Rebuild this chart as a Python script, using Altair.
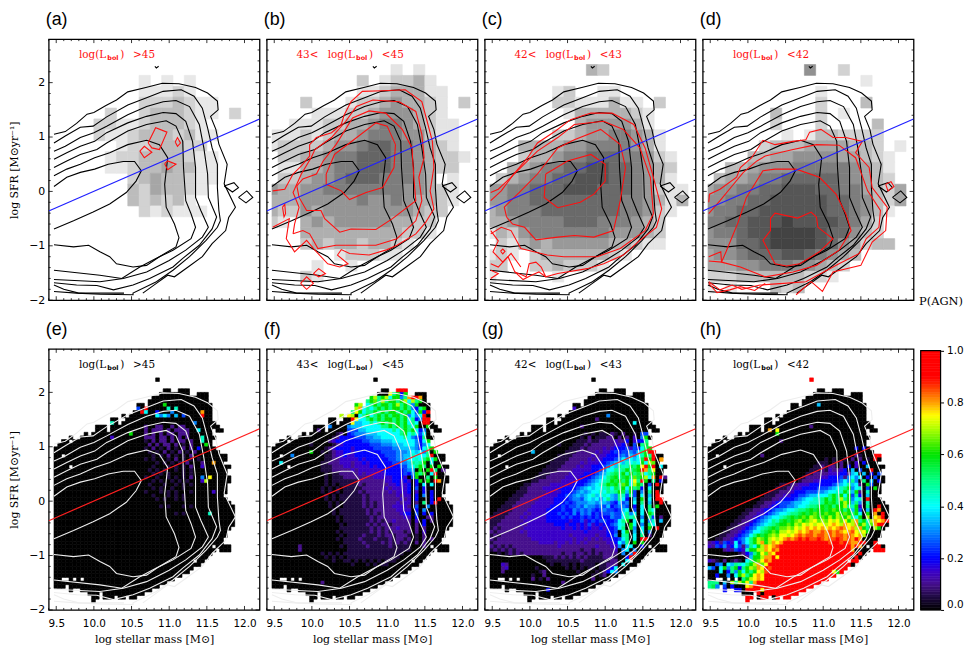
import altair as alt
import pandas as pd

W, H = 212.4, 263
XD = [9.4, 12.2]
YD = [-2.0, 2.8]
XS = alt.Scale(domain=XD, nice=False, zero=False)
YS = alt.Scale(domain=YD, nice=False, zero=False)

X_MAJOR = [9.5, 10.0, 10.5, 11.0, 11.5, 12.0]
X_MINOR = [9.4, 9.6, 9.7, 9.8, 9.9, 10.1, 10.2, 10.3, 10.4, 10.6, 10.7, 10.8, 10.9, 11.1, 11.2, 11.3, 11.4, 11.6, 11.7, 11.8, 11.9, 12.1]
Y_MAJOR = [-2, -1, 0, 1, 2]
Y_MINOR = [-1.8, -1.6, -1.4, -1.2, -0.8, -0.6, -0.4, -0.2, 0.2, 0.4, 0.6, 0.8, 1.2, 1.4, 1.6, 1.8, 2.2, 2.4, 2.6]

SF_LINE = [(9.4, -0.36), (12.2, 1.33)]

COLOR_STOPS = [0, 0.05, 0.1, 0.15, 0.2, 0.3, 0.4, 0.5, 0.6, 0.7, 0.75, 0.8, 0.87, 0.9, 1.0]
COLORS = ["#000000", "#1e0a40", "#46108c", "#3a00c8", "#0000ff", "#0084ff", "#00ffff", "#00ff84", "#00e400",
          "#b0ff00", "#ffff00", "#ffa000", "#ff2800", "#ff0000", "#ff0000"]
COLOR_TICKS = [0.0, 0.2, 0.4, 0.6, 0.8, 1.0]

# Black (top) / white (bottom) density contours, stellar mass vs SFR
CONTOURS = {
 "c1": [(9.47,1.05),(9.62,1.10),(9.77,1.25),(9.91,1.42),(10.0,1.45),(10.16,1.58),(10.3,1.68),(10.45,1.83),(10.69,1.91),(10.91,1.99),(11.13,1.98),(11.35,1.91),(11.51,1.81),(11.64,1.66),(11.65,1.5),(11.55,1.38),(11.62,1.14),(11.66,0.87),(11.77,0.5),(11.73,0.14),(11.88,-0.29),(11.79,-0.48),(11.75,-0.72),(11.57,-0.96),(11.44,-1.2),(11.26,-1.38),(11.07,-1.57),(10.98,-1.54),(10.83,-1.69),(10.65,-1.87)],
 "c2": [(9.47,0.89),(9.62,1.02),(9.82,1.18),(9.99,1.2),(10.17,1.37),(10.45,1.59),(10.7,1.72),(10.92,1.84),(11.16,1.87),(11.33,1.75),(11.44,1.53),(11.51,1.17),(11.57,0.8),(11.64,0.5),(11.64,0.07),(11.66,-0.35),(11.68,-0.54),(11.64,-0.66),(11.49,-0.9),(11.27,-1.2),(11.05,-1.45),(10.83,-1.66),(10.52,-1.87),(10.52,-1.9),(10.08,-1.89),(9.77,-1.87),(9.47,-1.84)],
 "c3": [(9.47,0.74),(9.62,0.83),(9.82,0.99),(10.0,1.08),(10.17,1.2),(10.45,1.41),(10.7,1.56),(10.92,1.65),(11.09,1.67),(11.27,1.56),(11.4,1.23),(11.46,0.8),(11.51,0.32),(11.52,-0.11),(11.63,-0.47),(11.57,-0.69),(11.4,-0.99),(11.18,-1.23),(11.05,-1.39),(10.74,-1.6),(10.52,-1.72),(10.26,-1.81),(10.04,-1.73),(9.77,-1.72),(9.47,-1.68)],
 "c4": [(9.47,0.59),(9.64,0.71),(9.82,0.83),(10.01,0.92),(10.17,1.08),(10.45,1.26),(10.7,1.38),(10.92,1.45),(11.09,1.43),(11.22,1.29),(11.31,0.92),(11.35,0.44),(11.35,-0.11),(11.42,-0.35),(11.52,-0.66),(11.44,-0.84),(11.22,-1.08),(11.0,-1.27),(10.7,-1.48),(10.39,-1.6),(10.08,-1.66),(9.47,-1.62)],
 "c5": [(9.47,0.44),(9.64,0.56),(9.82,0.68),(10.04,0.77),(10.17,0.89),(10.45,1.11),(10.7,1.23),(10.96,1.3),(11.09,1.2),(11.18,0.92),(11.19,0.44),(11.22,-0.17),(11.29,-0.41),(11.35,-0.66),(11.29,-0.87),(11.05,-1.08),(10.83,-1.23),(10.61,-1.39),(10.37,-1.6),(10.08,-1.54),(9.47,-1.45)],
 "c6": [(9.47,0.29),(9.64,0.41),(9.82,0.5),(10.01,0.62),(10.21,0.71),(10.45,0.86),(10.7,0.94),(10.87,0.86),(10.98,0.62),(10.94,0.13),(10.96,-0.29),(11.07,-0.6),(11.13,-0.85),(11.09,-1.02),(10.87,-1.2),(10.7,-1.36),(10.52,-1.39),(10.3,-1.33),(10.21,-1.2),(10.08,-1.11),(9.93,-0.99),(9.73,-1.02),(9.47,-0.98)],
 "c7": [(9.47,0.09),(9.64,0.26),(9.82,0.35),(10.01,0.41),(10.19,0.5),(10.39,0.55),(10.54,0.55),(10.63,0.38),(10.56,0.19),(10.43,-0.02),(10.21,-0.23),(9.99,-0.38),(9.73,-0.54),(9.47,-0.69)],
 "c8": [(9.47,-1.72),(9.6,-1.8),(9.8,-1.87),(10.0,-1.87),(10.4,-1.87)],
}
BLACK_EXTRA = {
 "d1": [(11.73,0.10),(11.86,0.16),(11.92,0.07),(11.84,-0.01),(11.73,0.10)],
 "d2": [(11.92,-0.11),(12.03,0.01),(12.11,-0.11),(12.02,-0.21),(11.92,-0.11)],
 "d3": [(10.81,2.30),(10.83,2.27),(10.86,2.30)],
}

# Red contours of each luminosity bin
RED_A = {
 "p1": [(10.61,0.74),(10.67,0.83),(10.77,0.72),(10.67,0.62),(10.61,0.74)],
 "p2": [(10.72,0.89),(10.82,1.17),(10.97,1.09),(10.87,0.77),(10.77,0.80),(10.72,0.89)],
 "p3": [(11.08,0.91),(11.11,0.99),(11.15,0.89),(11.11,0.83),(11.08,0.91)],
 "p4": [(10.94,0.51),(10.98,0.56),(11.09,0.5),(10.98,0.4),(10.94,0.51)],
}
RED_B = {
 "a": [(9.48,0.01),(9.64,0.04),(9.75,0.32),(9.86,0.47),(9.97,0.65),(9.97,0.86),(10.06,0.99),(10.26,1.08),(10.39,1.23),(10.43,1.41),(10.52,1.65),(10.67,1.84),(10.94,1.85),(11.24,1.87),(11.46,1.65),(11.53,1.29),(11.6,0.92),(11.62,0.44),(11.57,0.01),(11.62,-0.32),(11.51,-0.57),(11.38,-0.78),(11.13,-0.99),(11.0,-1.07),(10.76,-1.17),(10.5,-1.14),(10.39,-1.07),(10.34,-1.17),(10.48,-1.33),(10.37,-1.39),(10.21,-1.33),(10.04,-1.08),(9.93,-0.9),(9.77,-1.11),(9.66,-0.87),(9.7,-0.5),(9.48,-0.66)],
 "b": [(9.75,-0.78),(9.77,-0.6),(9.83,-0.29),(9.75,-0.02),(9.86,0.32),(9.99,0.62),(10.04,0.77),(10.26,0.99),(10.45,1.29),(10.59,1.56),(10.81,1.68),(11.16,1.65),(11.38,1.47),(11.46,1.05),(11.49,0.62),(11.42,0.26),(11.46,-0.17),(11.38,-0.54),(11.13,-0.87),(10.85,-0.99),(10.32,-0.99),(10.08,-1.05),(9.97,-0.78),(9.88,-0.72),(9.75,-0.78)],
 "c": [(11.35,0.32),(11.38,-0.17),(11.07,-0.5),(10.85,-0.7),(10.52,-0.69),(10.37,-0.75),(10.17,-0.5),(10.12,-0.35),(9.93,-0.35),(9.83,-0.11),(9.8,0.1),(9.88,0.23),(10.06,0.32),(10.15,0.56),(10.32,0.86),(10.54,1.35),(10.76,1.48),(10.98,1.44),(11.2,1.14),(11.33,0.8),(11.35,0.32)],
 "d": [(11.11,0.86),(11.09,0.44),(10.94,0.07),(10.72,-0.02),(10.5,-0.15),(10.39,0.01),(10.19,0.13),(10.19,0.32),(10.3,0.68),(10.5,0.89),(10.85,1.26),(11.0,1.2),(11.11,0.86)],
 "e": [(9.85,-1.69),(9.93,-1.57),(10.02,-1.69),(9.93,-1.8),(9.85,-1.69)],
 "f": [(10.02,-1.51),(10.09,-1.42),(10.18,-1.51),(10.09,-1.57),(10.02,-1.51)],
 "g": [(9.61,-0.29),(9.64,-0.24),(9.65,-0.41),(9.63,-0.47),(9.61,-0.29)],
}
RED_C = {
 "a": [(9.48,-0.02),(9.58,0.04),(9.75,0.26),(9.97,0.62),(10.1,0.89),(10.34,1.11),(10.54,1.32),(10.81,1.44),(11.09,1.44),(11.38,1.23),(11.53,0.8),(11.64,0.26),(11.75,-0.32),(11.68,-0.66),(11.46,-0.9),(11.24,-1.17),(10.98,-1.33),(10.76,-1.42),(10.37,-1.51),(10.21,-1.57),(10.15,-1.39),(10.08,-1.3),(9.99,-1.33),(9.95,-1.57),(9.8,-1.48),(9.71,-1.2),(9.58,-1.39),(9.48,-1.33)],
 "b": [(9.48,-0.17),(9.62,0.01),(9.77,0.29),(10.1,0.74),(10.37,0.99),(10.59,1.23),(10.98,1.29),(11.24,1.14),(11.46,0.8),(11.6,0.26),(11.64,-0.41),(11.53,-0.72),(11.2,-1.05),(10.89,-1.2),(10.45,-1.2),(10.23,-1.17),(9.88,-1.05),(9.75,-0.72),(9.62,-0.66),(9.48,-0.78)],
 "c": [(9.69,-0.47),(9.66,-0.29),(9.88,0.01),(10.1,0.32),(10.37,0.8),(10.59,0.95),(10.94,1.14),(11.2,0.86),(11.27,0.44),(11.2,-0.17),(11.11,-0.72),(10.85,-0.84),(10.59,-0.81),(10.37,-0.84),(10.08,-0.89),(9.93,-0.66),(9.77,-0.6),(9.69,-0.47)],
 "d": [(10.21,0.32),(10.5,0.56),(10.81,0.68),(11.0,0.5),(11.0,0.19),(10.85,-0.05),(10.67,-0.2),(10.37,-0.3),(10.19,-0.11),(10.21,0.32)],
 "e": [(9.48,-0.72),(9.58,-0.91),(9.51,-1.11),(9.64,-1.3),(9.75,-1.14),(9.88,-1.39)],
 "f": [(9.48,-1.45),(9.58,-1.51),(9.48,-1.6)],
 "g": [(9.8,-1.48),(9.91,-1.62),(10.02,-1.54),(10.12,-1.48),(10.21,-1.57)],
 "h": [(9.61,-1.1),(9.64,-1.06),(9.67,-1.1),(9.64,-1.15),(9.61,-1.1)],
}
RED_D = {
 "a": [(9.48,-0.2),(9.49,-0.05),(9.63,0.04),(9.85,0.26),(9.9,0.44),(10.05,0.62),(10.2,0.94),(10.36,0.86),(10.6,0.92),(10.77,0.95),(10.82,1.09),(10.97,1.14),(11.13,0.99),(11.3,0.99),(11.52,0.92),(11.43,0.71),(11.61,0.44),(11.65,0.07),(11.85,-0.29),(11.83,-0.72),(11.65,-0.93),(11.5,-1.36),(11.13,-1.48),(10.99,-1.84),(10.84,-1.66),(10.64,-1.9)],
 "b": [(9.48,-0.41),(9.63,-0.17),(9.79,0.1),(9.94,0.35),(10.12,0.56),(10.23,0.65),(10.6,0.77),(10.91,0.86),(11.21,0.85),(11.43,0.62),(11.59,0.01),(11.76,-0.35),(11.74,-0.66),(11.57,-0.87),(11.48,-1.14),(11.21,-1.33),(10.97,-1.51),(10.77,-1.66),(10.47,-1.69),(10.16,-1.72),(9.92,-1.8),(9.79,-1.72),(9.63,-1.81),(9.48,-1.66)],
 "c": [(9.65,-1.3),(9.7,-1.14),(9.87,-0.57),(9.98,-0.11),(10.2,0.38),(10.36,0.41),(10.64,0.41),(10.95,0.26),(11.17,-0.05),(11.3,-0.41),(11.37,-0.72),(11.21,-1.08),(10.91,-1.36),(10.6,-1.48),(10.23,-1.57),(9.9,-1.39),(9.65,-1.3)],
 "d": [(10.3,-0.5),(10.36,-0.4),(10.66,-0.49),(10.84,-0.38),(10.91,-0.47),(10.93,-0.66),(11.13,-0.87),(10.95,-1.11),(10.69,-1.33),(10.51,-1.37),(10.36,-1.33),(10.2,-0.9),(10.3,-0.72),(10.3,-0.5)],
 "e": [(9.48,-1.2),(9.64,-1.11),(9.65,-1.3),(9.48,-1.28)],
 "f": [(9.48,-1.69),(9.59,-1.86),(9.76,-1.81),(9.9,-1.75),(10.09,-1.82),(10.23,-1.69)],
 "g": [(11.83,0.13),(11.9,0.18),(11.94,0.09),(11.86,0.01),(11.83,0.13)],
}

# P(AGN) coarse grey density: one digit per 0.15 dex cell (first cell at 9.40), rows 0.2 dex from 2.33 down
GREY_A = ["", "........1.1.1", "........11121", "........2223211", ".....2..2333211.2", "....2211233321", "....21123332311",
 "......12233322", ".....1223333211", ".....1123343311", ".......23433211", ".......3243321", ".......323231", "........212111"]
GREY_B = ["...........1.1", "........2.12231", "........11233311", "...2...122343321.2", "....111223444321", "..111223345543211",
 "11121233455544211", "12222344566554321", ".22334556665543221", ".1133455666554322", ".22344566655543.1", "43344555555544321",
 "33344444544543321", "3224344444444322", "21.343444443322", "...333333333221", "...2323323321", "......122211", "....1..1", "...21"]
GREY_C = [".........32", "", "......12..11", "......22111311.2", ".......13333321", "........3444431", "......2234455431",
 "...3333445555431", "...23345566655421", "..334556677665432", ".2345566777665431", "445566677766654211", "445566666666554313",
 "34555666666655421", "3345555666555432", "1324555555544432", ".213434444433211", "121.233333321", "22..2232221", "1.....1"]
GREY_D = [".........5..2", "..............1", "..........1", "..........2...3", "......3...2.1", "......2...2....3", ".......1.1332222",
 ".....23334444332.1", "....3344555544321", "..334555666665431", ".3445667777765432", "455667788877664324", "556677888887765324",
 "56677888888776531", "6677888988887642", "5667889999877532", "55577899998754233", "45567778876543", "4445566655432", "222333333221", "1.1...323"]

# Cells that hold data: row -> column runs (0.05 dex x 0.0667 dex cells, columns from 9.47, rows from 2.33 down)
MASK = {
 1:[(27,27)], 4:[(29,30),(33,35)], 5:[(28,35),(38,40)], 6:[(26,40)], 7:[(25,40)], 8:[(22,23),(25,41)], 9:[(22,41)], 10:[(21,41)],
 11:[(18,18),(20,41)], 12:[(15,16),(19,41)], 13:[(15,16),(18,42)], 14:[(11,13),(15,43)], 15:[(11,13),(15,41),(43,44)],
 16:[(8,8),(10,41)], 17:[(4,4),(7,42)], 18:[(2,3),(5,41)], 19:[(1,41)], 20:[(0,42)], 21:[(0,43)], 22:[(0,1),(3,45)], 23:[(0,45)], 24:[(0,44)],
 25:[(0,3),(5,46)], 26:[(0,45)], 27:[(0,45)], 28:[(0,46)], 29:[(0,46)], 30:[(0,45)], 31:[(0,45)], 32:[(0,45)], 33:[(0,44)], 34:[(0,45)],
 35:[(0,46)], 36:[(0,47)], 37:[(0,47)], 38:[(0,47)], 39:[(0,47)], 40:[(0,47)], 41:[(0,47)], 42:[(0,46)], 43:[(0,45)], 44:[(0,45)], 45:[(0,44)],
 46:[(0,44)], 47:[(0,41),(43,46)], 48:[(0,42),(44,46)], 49:[(0,41)], 50:[(0,40)], 51:[(0,36),(38,39)], 52:[(0,38)], 53:[(0,36)], 54:[(0,35)],
 55:[(0,33)], 56:[(0,1),(4,4),(6,6),(8,31)], 57:[(0,29)], 58:[(0,2),(4,27)], 59:[(4,4),(7,25)], 60:[(9,11),(13,23)], 61:[(10,11),(13,15),(17,18),(20,21)], 62:[(10,10)],
}

# Fraction per cell, character = value * 20 (0-9, A=0.50 ... K=1.00), '.' = 0; groups of 10 columns
FRAC_E = {
 1:"", 8:".......... .......... .........C", 9:".......... .......... ..5.K..... 9.9", 10:".......... .......... ...K8..4.. .6....... G",
 11:".......... .......... .......868 6.7.5....K", 13:".......... .....9.... .......... .......6", 14:".......... .......... ....2..22. .2.22", 15:".......... .......... ....2.222. 2.2222..8",
 16:".......... .......... C...2.2.2. 22.222", 17:".......... .....3.... ....222.22 .2.2.2...9", 18:".......... .......... ....1.2.22 .2.22.2..9", 19:".......... .......... .....2.2.2 2.2.1.2...C",
 20:".......... .......... ....1.2.1. 2.1.2.2.4", 21:".......... .......... .....1.1.2 .1.2.1.2", 22:".......... .......... ......1.1. 2.1.1.2", 23:".......... .......... ....1.1... 1.2.1.1.1",
 24:".......... .......... .......1.1 .1.1.2...2 ..G", 25:".......... .......... ......1... 1.1.1.2..3", 26:".......... .......... .....1.1.1 ..1.1.1", 27:".......... .......... ......1.1. 1...1.1.",
 28:".......... .......... ....1..1.. 1.1.1.2..6 .F", 29:".......... .......... ......1.1. .1.1.1...3 E", 30:".......... .......... .....1...1 ..1.1.1.", 31:".......... .......... ......1.1. .1..1",
 32:".......... .......... ....1...1. 1.1...1... ..3", 33:".......... .......... ......1... 1.1.1", 34:".......... .......... .......1.1 ..1.1", 36:".......... .......... ........1. 1...1.1",
 38:".......... .......... .......... ..1.1.... ..9",
}
FRAC_F = {
 4:".......... .......... .......... ...KKK", 5:".......... .......... .......... .FAC4C", 6:".......... .......... ....FBCEAC E8CC6AGIIG", 7:".......... .......... ..K..ACDAE ACCACE8EAC",
 8:".......... .......... ..CE.8ACAC CACEACA6C", 9:".......... .......... ..EG8A8ACA CACCACA64A C", 10:".......... ........G. .AFC8AACAC ACCACAC85C 4K",
 11:".......... ........E. FE.8AC8ACA CACCAC6868 K", 12:".......... .......... .KF88ACACA CCACAC8A46 KK", 13:".......... .......... .F7788A8AC ACACAC8A8. KK",
 14:".......... .....6.... 677788888A ACACACA8C. .C", 15:".......... ..2....... 5557788888 88A8ACAC84 6", 16:".......... .......12. 4566677788 8888AC8A85 8",
 17:".......... ......1244 4455566778 88888A8654 A", 18:".......... .....23444 4444556667 7788888864 8C", 19:".......... 1.....1234 4444445556 6677788864 68.K",
 20:".......... ....123444 4344444555 5566777764 8AC", 21:".......... C..1.12334 4344444445 5556667878 6A.C", 22:".....6.... ....112334 3344444444 5556677988 8AK",
 23:".......... ....112233 3334344444 4556678898 AC8C", 24:"..8....... ...1122233 3233434444 4455667A9A C.8", 25:".......... ...1112223 3233334344 44445578AC A.C.C",
 26:".......... ...1112222 2323333334 44444567.C .CKA.2", 27:".......... ....1.1122 2223233333 44444546CA C.8K", 28:".......... ....1.1112 2222222333 334443.5C. .A.C",
 29:".......... ....1.1111 1112222222 3344343.4C .C.KG", 30:".......... ....1.1.11 1112122222 2334334.4. 8.8", 31:".......... ...1.1.1.1 1111222222 3233334.5. 4",
 32:".......... ...1.1.1.1 1112122222 2323334.3. 4.4", 33:".......... ....1.1.11 1111212222 2223233.4. 6.4", 34:".......... ....1.1.11 1111212222 2222323.4. ..4.K",
 35:".......... .....1.1.1 1111212122 2223233.2. A.4K", 36:".......... .....1.1.1 1111212122 2233332.5. .6", 37:".......... ......1.11 1111121222 2223333.4. 6",
 38:".......... ......1.11 1111121212 2222344.5. 4.4", 39:".......... .......1.1 1111112122 2222233.4. .22", 40:".......... .......1.1 1111112121 2232222.3. 4.2",
 41:".......... ........1. 1111121212 2122222.2. 4", 42:".......... ........11 1111112121 2223222.2. 2", 43:".......... .......1.1 1111112121 2122212.2. 3",
 44:".......... ........1. 1111211121 2212221.1. 2", 45:".......... .......1.1 1112111211 1212212.1. 2.2", 46:".......... .........1 1111211112 1212121.2. 2",
 47:".......2.. ........1. 1111121111 1211111... 2", 48:".......2.. .......... 1111111111 1111111", 49:".......... ...1.1.1.1 1111111111 11111", 50:".......... ....1.1.1. 1111111111 1111",
 51:".......... ......1..1 1.1.1.1.1. 111", 52:".......... .......... .1...1.1.1 1", 57:".......... ...2",
}
FRAC_G = {
 9:".......... .......... ..3", 11:".......... .......... .......... .6", 12:".......... .......... ........2", 13:".......... .......... .......... ........8",
 14:".......... .......... ....2", 16:".......... .......... .....1.1.1 1.21.2..1. 55", 17:".......... .......... ....1.2.11 122.2.2.3. 6C",
 18:".......... .......... ...1112112 2223224.34 4A", 19:".......... ........1. ..11121222 2223342.5. AB", 20:".......... .......... .111212222 3234445354 8BCG",
 21:".......... .7........ 1112222232 3345455657 ACKK", 22:".......... ........11 1122222323 3444565768 9CAK", 23:".......... .......111 1222223233 4445687878 BKCK.G",
 24:".......... ......1111 2222323334 4567879898 C8ED.K", 25:".......... .....11112 2223233444 5687A99BAC FKCK.8", 26:".......... ....111122 2233333445 688A9ACABC IGAF..2",
 27:".......... ...1112222 2333344456 79ABAC9CAB D8AC", 28:".......... ..11122222 3333444567 8ABCABCADB CE8G.K2", 29:".......... .112222223 3334445678 9ACBCAC8FA KC.A.4",
 30:".........1 1222223333 3344456789 ACBCADC8EC A.5.K", 31:"........11 2222333344 4445678788 9A8BAC8CAB 4.8", 32:".......111 2222233334 4456767889 8A9ACB7C5. 6.A.K",
 33:"......1112 2222333344 5567678978 9876A95A5. 8.7.K2", 34:".....11122 2223333444 4566578786 8A76A84.7. C.8.IK", 35:"....111222 2233333444 5456667767 7654756.8. A.7..K",
 36:"...1112222 2333334445 4556576656 5745665.4. 8.A.C", 37:"..11112222 3333344445 4465656545 6554578.5. 8.A8", 38:".111122223 2333344454 5464656454 556558A68. 8.CA",
 39:"1111222232 3333344445 4544545454 446558A9A. 6.A5.2", 40:"1112222223 3333344444 4344534545 54458AC.8. 8.69.7", 41:"1122222232 3333333444 3443435343 445689.C8. 6.A8",
 42:"1212222223 3333333334 3343434334 34458A.C6. 8.C.K", 43:"2122222232 3333333333 3333343333 3445.8C.7. 8.6", 44:"1212222222 3333333333 3233333323 3446.9A.8. A.2",
 45:"2122222222 2333333333 3323323232 334458A.8. KK", 46:"1222222222 2223333233 2323232222 233486A.C. C", 47:"2121212222 2222222232 2222222232 22336.88.. 4",
 48:"1212121222 2222222222 2222122122 2223.68.6", 49:"..1.121212 2222222221 2212212121 2222.6.6K", 50:".......... ....111212 1212121111 2221..4K", 51:".......... .....11111 1111211111 1122..8",
 52:"...32..... ......1..1 1.1.1111.1 1222.8", 53:"...23..... ..1....... 1.1.1.11.1 1248", 54:"...2...... ...12..... ...1....1. 2486", 55:".......... .1..2..... .......1.1 2", 56:".......... .2.1.2.... .......2",
 57:".......... .........2", 59:".......... .....4",
}
FRAC_H = {
 1:".......... .......... .......K", 8:".......... .......... .........7", 14:".......... .......... .......2", 15:".......... ......G.F.", 16:".......... ........C.",
 18:".......... .........2", 20:".......... .......... .......... .........4 .4", 22:".......... ....2..... .......... .........2 1...KK",
 23:".......... .......... .......... .1.1..1.2. 2.1.K", 24:".......... .......... .........1 11.1.2.1.3 .4", 25:".......... .......... ........11 2122.2.4.3 ..7",
 26:".......... .......... .......111 2132234.7. 5..K", 27:".......... .......... ......1122 2233344278 .7.4.5", 28:".......... .......... .....12222 3344452686 8.4.5",
 29:".......... .......... ....122233 44444686A6 .A.7.4", 30:".......... .........1 1122333444 4445678A78 2.C5", 31:".......... ........11 1223344445 556789AC68 9.5.C",
 32:".......... ......1112 2234445556 678899CA7C 2.9", 33:".......... .....11122 3344556778 88ACAC8C5A 4.7", 34:".......... ....111223 4445678899 ACACAEAC68 9.K",
 35:".......... ...1122345 5567788999 ACBCACEC7A 6.9", 36:".......... ..11223445 5667889AAB CBCACCEA9C 3.A..K", 37:".......... 1122344566 7889AABCBC CBCDCCAC7C 5.7.KG",
 38:".........1 1223345678 89AABCBCDC CDCCECDCAC 8.C.G.K", 39:"........11 2234567889 ABCBCDCEDC DCECEDCEA8 C.E.FGK", 40:".......112 2345678A9B CBCDECDEFD EDFEFDFCEG AC9EGFGK",
 41:"......1122 3456789ABC CDCEDFEFEF FEFGFEGFEG CEADGKK", 42:".....11223 45689ABCBD DEDFEFGFGF GFGFGHGFGE GCA.EC", 43:"....112234 5688ABCDCE EFEFGFGHGG HGHGHGFGHF EFC",
 44:"...1122345 68ACBCDEDF FEFGHGHHGH HGHGHHGHGF GE", 45:"..11223456 8ACEDCEFEF GHGHIHIHHI HGHHIHGHGK G", 46:"2342543846 8ACEGCEGFG IIJIJIIIJI IIHIIHIHGG KK..KK",
 47:"3254634852 6A8CEGFGHI JKKKKKJKJJ KJJIIJIIGK G.K.KK", 48:"....232543 9CCEEGFHGJ KKKKKKKKKK KKJJKJIKG. ....KKK", 49:"........12 46ACFDGFIJ KKKKKKKKKK KKKKKKKKK. K",
 50:".......... 27CCEGGIFJ KKKKKKKKKK KKKKKKKK.K", 51:"321.2.121. 8ACDFHGKIK KKKKKKKKKK KKKKKKKKKK", 52:"..56.87A98 ACEGDFIJKK KKKKKKKKKK KKKKKKKK.K",
 53:"75.8C6AC4A CEDGFIHKKK KKKKKKKKKK KKKKKKK", 54:"...8.4A6C8 CACFEHJKKK KKKKKKKKKK KKKFCK", 55:"..4..6.8CE ACFGFIJKKK KKKKKKKKKK KKKK", 56:".........A CEFGFJKKKK KKKKKKKKKK KK",
 57:"AAA.7.EAEC FAGIKKKKKK KKKKKKKKKK", 58:"AB6.5.4... FGKKKKKKKK KKKKKKKK", 59:"....4..44. KKKKFKKKKK KKKKKK", 60:".......... ..KK.KKKKK KKKK", 61:".......... KKK.KKK.KK KK", 62:".......... K",
}

LEVELS = "0123456789ABCDEFGHIJK"
XC0, DXC, DXF, YC0, DYC, DYF = 9.47, 0.15, 0.05, 2.333, 0.2, 0.0667
C2 = "#ff1010"
SANS = "DejaVu Sans"
SERIF = "DejaVu Serif"


def grey_df(rows):
    out = []
    for r, s in enumerate(rows):
        for c, ch in enumerate(s):
            if ch != ".":
                out.append(dict(x0=max(XC0, 9.4 + DXC * c), x1=9.4 + DXC * (c + 1), y0=YC0 - DYC * r, y1=YC0 - DYC * (r + 1), g=int(ch)))
    return pd.DataFrame(out)


def frac_df(rows):
    out = []
    for r, runs in MASK.items():
        s = rows.get(r, "").replace(" ", "")
        for a, b in runs:
            for c in range(a, b + 1):
                ch = s[c] if c < len(s) else "."
                v = 0.0 if ch == "." else LEVELS.index(ch) / 20
                out.append(dict(x0=XC0 + DXF * c, x1=XC0 + DXF * (c + 1), y0=YC0 - DYF * r, y1=YC0 - DYF * (r + 1), v=v))
    return pd.DataFrame(out)


def lines_df(d):
    return pd.DataFrame([dict(n=k, i=i, x=p[0], y=p[1]) for k, pts in d.items() for i, p in enumerate(pts)])


def line_layer(d, color, xa, ya, sw=1.1):
    return alt.Chart(lines_df(d)).mark_line(clip=True, color=color, strokeWidth=sw, strokeJoin="miter").encode(
        x=alt.X("x:Q", scale=XS, axis=xa), y=alt.Y("y:Q", scale=YS, axis=ya), detail="n:N", order="i:Q")


def tick_layers(xa, ya):
    out = []
    for vals, L in ((X_MAJOR, 4), (X_MINOR, 2)):
        d = pd.DataFrame({"v": vals})
        base = alt.Chart(d).mark_rule(color="black", strokeWidth=0.8)
        x = alt.X("v:Q", scale=XS, axis=xa)
        out.append(base.encode(x=x, y=alt.value(H), y2=alt.value(H - L)))
        out.append(base.encode(x=x, y=alt.value(0), y2=alt.value(L)))
    for vals, L in ((Y_MAJOR, 4), (Y_MINOR, 2)):
        d = pd.DataFrame({"v": vals})
        base = alt.Chart(d).mark_rule(color="black", strokeWidth=0.8)
        y = alt.Y("v:Q", scale=YS, axis=ya)
        out.append(base.encode(y=y, x=alt.value(0), x2=alt.value(L)))
        out.append(base.encode(y=y, x=alt.value(W), x2=alt.value(W - L)))
    return out


def txt(s, x, y, size=11, color="black", font=SERIF, weight="normal"):
    return alt.Chart(pd.DataFrame({"t": [s]})).mark_text(align="left", baseline="middle", font=font, fontSize=size,
        color=color, fontWeight=weight).encode(text="t:N", x=alt.value(x), y=alt.value(y))


def lum_label(prefix, tail, color):
    dx = 31 if prefix else 0
    out = []
    if prefix:
        out.append(txt(prefix, 30, 16, 10.5, color))
    out += [txt("log(L", 30.5 + dx, 16, 10.5, color), txt("bol", 59 + dx, 19.5, 6.5, color, SANS, "bold"),
            txt(")", 72 + dx, 16, 10.5, color), txt(tail, 85 + dx, 16, 10.5, color)]
    return out


def axes(show_x, show_y):
    xa = alt.Axis(domain=False, ticks=False, grid=False, values=X_MAJOR, format=".1f", labelFont=SANS, labelFontSize=10.5,
                  labelColor="black", labelPadding=9, title="log stellar mass [M⊙]", titleFont=SERIF, titleFontSize=11,
                  titleFontWeight="normal", titleColor="black", titlePadding=4, labelOverlap=False) if show_x else None
    ya = alt.Axis(domain=False, ticks=False, grid=False, values=Y_MAJOR, format="d", labelFont=SANS, labelFontSize=11,
                  labelColor="black", labelPadding=4, title="log SFR [M⊙yr⁻¹]", titleFont=SERIF, titleFontSize=11,
                  titleFontWeight="normal", titleColor="black", titlePadding=9) if show_y else None
    return xa, ya


def top_panel(letter, rows, reds, prefix, tail, gmax, show_y=False, extra=None):
    xa, ya = axes(False, show_y)
    gs = alt.Scale(domain=[0, gmax], range=["#ffffff", "#434343"])
    heat = alt.Chart(grey_df(rows)).mark_rect(strokeWidth=0.6).encode(
        x=alt.X("x0:Q", scale=XS, axis=xa), x2="x1:Q", y=alt.Y("y0:Q", scale=YS, axis=ya), y2="y1:Q",
        fill=alt.Fill("g:Q", scale=gs, legend=None), stroke=alt.Stroke("g:Q", scale=gs, legend=None))
    sf = pd.DataFrame(SF_LINE, columns=["x", "y"])
    layers = [heat, line_layer({**CONTOURS, **BLACK_EXTRA}, "black", xa, ya), line_layer(reds, C2, xa, ya),
              alt.Chart(sf).mark_line(color="#2020ff", strokeWidth=1.2, clip=True).encode(
                  x=alt.X("x:Q", scale=XS, axis=xa), y=alt.Y("y:Q", scale=YS, axis=ya))]
    layers += tick_layers(xa, ya) + lum_label(prefix, tail, C2)
    layers.append(txt(f"({letter})", -3, -19, 18, "black", "Liberation Sans"))
    if extra:
        layers.append(extra)
    return alt.layer(*layers).properties(width=W, height=H)


def bottom_panel(letter, rows, prefix, tail, show_y=False):
    xa, ya = axes(True, show_y)
    cs = alt.Scale(domain=COLOR_STOPS, range=COLORS, interpolate="rgb")
    heat = alt.Chart(frac_df(rows)).mark_rect(strokeWidth=0.6).encode(
        x=alt.X("x0:Q", scale=XS, axis=xa), x2="x1:Q", y=alt.Y("y0:Q", scale=YS, axis=ya), y2="y1:Q",
        fill=alt.Fill("v:Q", scale=cs, legend=None), stroke=alt.Stroke("v:Q", scale=cs, legend=None))
    sf = pd.DataFrame(SF_LINE, columns=["x", "y"])
    layers = [heat, line_layer(CONTOURS, "#eeeeee", xa, ya, 1.1),
              alt.Chart(sf).mark_line(color="#ff2020", strokeWidth=1.2, clip=True).encode(
                  x=alt.X("x:Q", scale=XS, axis=xa), y=alt.Y("y:Q", scale=YS, axis=ya))]
    layers += tick_layers(xa, ya) + lum_label(prefix, tail, "black")
    layers.append(txt(f"({letter})", -3, -19, 18, "black", "Liberation Sans"))
    return alt.layer(*layers).properties(width=W, height=H)


def colorbar():
    steps = [i / 100 for i in range(100)]
    d = pd.DataFrame({"a": steps, "b": [s + 0.01 for s in steps], "c": [s + 0.005 for s in steps]})
    cs = alt.Scale(domain=COLOR_STOPS, range=COLORS, interpolate="rgb")
    ys = alt.Scale(domain=[0, 1.007], nice=False, zero=False)
    ax = alt.Axis(orient="right", values=COLOR_TICKS, format=".1f", domain=False, grid=False, tickSize=3, tickColor="black",
                  labelFont=SANS, labelFontSize=10.5, labelColor="black", labelPadding=3, title=None, labelFlush=True)
    bar = alt.Chart(d).mark_rect(strokeWidth=0.6).encode(
        y=alt.Y("a:Q", scale=ys, axis=ax), y2="b:Q", x=alt.value(0), x2=alt.value(20),
        fill=alt.Fill("c:Q", scale=cs, legend=None), stroke=alt.Stroke("c:Q", scale=cs, legend=None))
    frame = alt.Chart(pd.DataFrame({"a": [0.0], "b": [1.0]})).mark_rect(fillOpacity=0, stroke="black", strokeWidth=1.2).encode(
        y=alt.Y("a:Q", scale=ys, axis=ax), y2="b:Q", x=alt.value(0), x2=alt.value(20))
    return alt.layer(bar, frame).properties(width=20, height=H, view=alt.ViewConfig(stroke=None))


blank = alt.Chart(pd.DataFrame({"a": [0]})).mark_point(opacity=0).encode(
    x=alt.value(0), y=alt.value(0)).properties(width=20, height=H, view=alt.ViewConfig(stroke=None))
pagn = txt("P(AGN)", W + 5.5, H + 2, 11.5, "black", SERIF)
panels = [
    top_panel("a", GREY_A, RED_A, "", ">45", 9, show_y=True),
    top_panel("b", GREY_B, RED_B, "43<", "<45", 7.5),
    top_panel("c", GREY_C, RED_C, "42<", "<43", 7.8),
    top_panel("d", GREY_D, RED_D, "", "<42", 9, extra=pagn),
    blank,
    bottom_panel("e", FRAC_E, "", ">45", show_y=True),
    bottom_panel("f", FRAC_F, "43<", "<45"),
    bottom_panel("g", FRAC_G, "42<", "<43"),
    bottom_panel("h", FRAC_H, "", "<42"),
    colorbar(),
]
chart = alt.concat(*panels, columns=5, spacing=alt.RowColnumber(row=49, column=6.6), bounds="flush",
                   align=alt.RowColLayoutAlign(row="all", column="each")).resolve_scale(
    fill="independent", stroke="independent"
).properties(padding={"left": 0, "top": 0, "right": 0, "bottom": 0}, background="white"
).configure_view(stroke="black", strokeWidth=1.3)
chart.save("out.html", embed_options={"renderer": "svg", "actions": False})
